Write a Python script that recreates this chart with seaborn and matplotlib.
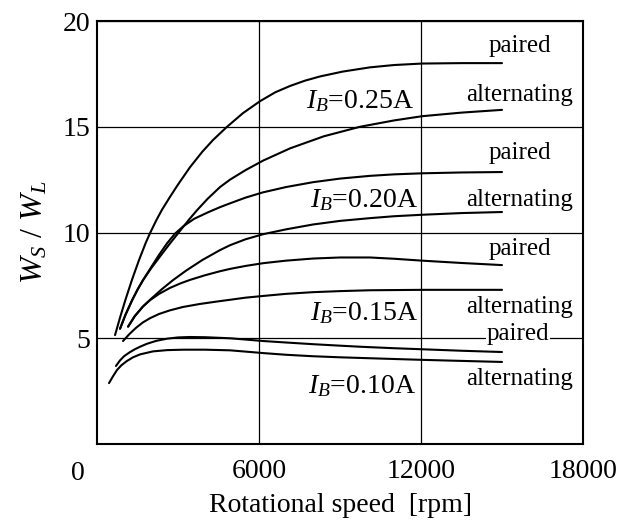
import matplotlib
matplotlib.use("Agg")
import matplotlib.pyplot as plt
import seaborn as sns
import pandas as pd

# Rotational speed [rpm] and W_S/W_L for each excitation current and winding mode
rpm_025_paired = [667, 850, 1050, 1296, 1550, 1800, 1963, 2200, 2407, 2700, 3000, 3444, 3900, 4300,
                  4815, 5400, 6037, 6600, 7150, 7700, 8260, 9100, 10110, 11000, 12040, 13500, 15000]
ws_025_paired = [5.15, 5.97, 6.81, 7.77, 8.68, 9.5, 9.97, 10.59, 11.08, 11.68, 12.27, 13.09, 13.82, 14.38,
                 15.0, 15.64, 16.21, 16.63, 16.93, 17.18, 17.38, 17.61, 17.81, 17.92, 17.99, 18.01, 18.01]

rpm_025_alt = [852, 1050, 1300, 1500, 1704, 2000, 2400, 2700, 3074, 3400, 3700, 4100, 4556, 4926,
               5500, 6150, 7150, 8400, 9740, 11000, 12040, 13500, 15000]
ws_025_alt = [5.45, 6.1, 6.8, 7.3, 7.75, 8.3, 8.98, 9.48, 10.08, 10.6, 11.05, 11.6, 12.15, 12.5,
              12.95, 13.4, 13.98, 14.55, 15.0, 15.3, 15.5, 15.67, 15.8]

rpm_020_paired = [852, 1050, 1300, 1500, 1704, 2000, 2300, 2600, 2890, 3200, 3600, 4100, 4556, 4926,
                  5500, 6150, 7000, 8000, 9000, 10110, 11000, 12040, 13500, 15000]
ws_020_paired = [5.45, 6.1, 6.8, 7.3, 7.75, 8.35, 8.95, 9.5, 9.95, 10.3, 10.65, 10.95, 11.2, 11.38,
                 11.65, 11.9, 12.15, 12.38, 12.55, 12.68, 12.75, 12.8, 12.84, 12.86]

rpm_020_alt = [1150, 1400, 1700, 1963, 2400, 2815, 3300, 3900, 4556, 4926, 5500, 6150, 7000, 8000,
               9000, 10110, 11000, 12040, 13500, 15000]
ws_020_alt = [5.55, 6.05, 6.5, 6.82, 7.32, 7.75, 8.2, 8.7, 9.17, 9.4, 9.68, 9.92, 10.15, 10.38,
              10.55, 10.68, 10.77, 10.84, 10.92, 10.97]

rpm_015_paired = [1150, 1400, 1700, 1963, 2300, 2700, 3100, 3444, 4000, 4556, 4926, 5500, 6150, 7000,
                  8000, 9000, 10110, 11000, 12040, 13500, 15000]
ws_015_paired = [5.55, 6.05, 6.5, 6.8, 7.1, 7.38, 7.6, 7.76, 7.98, 8.17, 8.28, 8.42, 8.55, 8.67,
                 8.77, 8.82, 8.82, 8.76, 8.67, 8.56, 8.46]

rpm_015_alt = [963, 1200, 1450, 1700, 1963, 2300, 2700, 3185, 3800, 4400, 4926, 5500, 6150, 7000,
               8000, 9000, 10110, 12040, 15000]
ws_015_alt = [4.87, 5.2, 5.5, 5.75, 5.95, 6.15, 6.32, 6.48, 6.62, 6.73, 6.82, 6.92, 7.0, 7.1,
              7.18, 7.23, 7.27, 7.29, 7.29]

rpm_010_paired = [700, 850, 1000, 1200, 1400, 1593, 1850, 2200, 2593, 3000, 3444, 4000, 4926, 5500,
                  6150, 7000, 8000, 9000, 9740, 11000, 12040, 13500, 15000]
ws_010_paired = [3.69, 3.95, 4.15, 4.33, 4.48, 4.6, 4.74, 4.88, 4.98, 5.04, 5.06, 5.05, 5.0, 4.94,
                 4.87, 4.8, 4.72, 4.65, 4.6, 4.53, 4.48, 4.41, 4.35]

rpm_010_alt = [444, 600, 740, 900, 1100, 1333, 1600, 2074, 2600, 3200, 4000, 4926, 5500, 6150,
               7000, 8000, 9000, 9740, 11000, 12040, 13500, 15000]
ws_010_alt = [2.88, 3.22, 3.5, 3.72, 3.92, 4.1, 4.24, 4.38, 4.44, 4.46, 4.46, 4.43, 4.37, 4.3,
              4.22, 4.15, 4.1, 4.07, 4.02, 3.98, 3.93, 3.88]

x_ticks = [6000, 12000, 18000]
y_ticks = [5, 10, 15, 20]

curves = {
    "0.25A paired": (rpm_025_paired, ws_025_paired),
    "0.25A alternating": (rpm_025_alt, ws_025_alt),
    "0.20A paired": (rpm_020_paired, ws_020_paired),
    "0.20A alternating": (rpm_020_alt, ws_020_alt),
    "0.15A paired": (rpm_015_paired, ws_015_paired),
    "0.15A alternating": (rpm_015_alt, ws_015_alt),
    "0.10A paired": (rpm_010_paired, ws_010_paired),
    "0.10A alternating": (rpm_010_alt, ws_010_alt),
}

rows = []
for name, (xs, ys) in curves.items():
    for xv, yv in zip(xs, ys):
        rows.append({"curve": name, "rpm": xv, "ratio": yv})
df = pd.DataFrame(rows)

sns.set_theme(style="white")
plt.rcParams["font.family"] = ["Liberation Serif", "DejaVu Serif"]
plt.rcParams["mathtext.fontset"] = "custom"
plt.rcParams["mathtext.rm"] = "Liberation Serif"
plt.rcParams["mathtext.it"] = "Liberation Serif:italic"
plt.rcParams["mathtext.bf"] = "Liberation Serif:bold"

fig = plt.figure(figsize=(6.43, 5.22), dpi=100)
ax = fig.add_axes([0.1509, 0.1494, 0.7558, 0.8103])

sns.lineplot(data=df, x="rpm", y="ratio", units="curve", estimator=None,
             sort=False, color="black", linewidth=1.5, ax=ax)

ax.set_xlim(0, 18000)
ax.set_ylim(0, 20)
ax.set_xticks(x_ticks)
ax.set_yticks(y_ticks)
ax.set_xticklabels([str(v) for v in x_ticks])
ax.set_yticklabels([str(v) for v in y_ticks])
ax.tick_params(axis="both", length=0, labelsize=20, colors="black")
ax.tick_params(axis="x", pad=11)
ax.tick_params(axis="y", pad=5)

ax.grid(True, color="black", linewidth=0.9)
ax.set_axisbelow(True)
for sp in ax.spines.values():
    sp.set_color("black")
    sp.set_linewidth(1.5)

ax.annotate("0", xy=(0, 0), xycoords="data", xytext=(-14, -21),
            textcoords="offset points", ha="center", va="center",
            fontsize=20, color="black", annotation_clip=False)

ax.set_xlabel("Rotational speed  [rpm]", fontsize=20, color="black", labelpad=6)
ax.set_ylabel(r"$W_S$ / $W_L$", fontsize=23, color="black", labelpad=9)

# Current labels
for txt, xr, yb in [("0.25A", 11740, 15.9), ("0.20A", 11890, 11.2),
                    ("0.15A", 11890, 5.86), ("0.10A", 11800, 2.41)]:
    ax.text(xr, yb, r"$I_B$=" + txt, ha="right", va="baseline",
            fontsize=20, color="black")

# Winding mode labels
mode_labels = [("paired", 18.55), ("alternating", 16.2), ("paired", 13.5),
               ("alternating", 11.25), ("paired", 8.95), ("alternating", 6.2),
               ("alternating", 2.8)]
for txt, yb in mode_labels:
    ax.text(15650, yb, txt, ha="center", va="baseline", fontsize=18, color="black")
ax.text(15600, 4.92, "paired", ha="center", va="baseline", fontsize=18,
        color="black", bbox=dict(facecolor="white", edgecolor="none", pad=0.5))

fig.savefig("out.png", dpi=100)
